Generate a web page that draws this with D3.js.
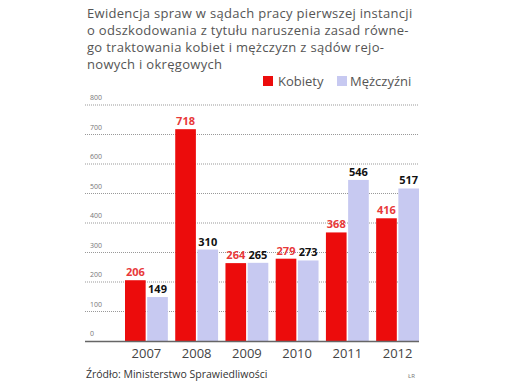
<!DOCTYPE html>
<html>
<head>
<meta charset="utf-8">
<script src="https://cdn.jsdelivr.net/npm/d3@7"></script>
<style>
  body { margin: 0; background: #fff; }
  text { font-family: "Open Sans", "DejaVu Sans", sans-serif; }
</style>
</head>
<body>
<div id="chart"></div>
<script>
// data
var years = ['2007', '2008', '2009', '2010', '2011', '2012'];
var kobiety = [206, 718, 264, 279, 368, 416];
var mezczyzni = [149, 310, 265, 273, 546, 517];
var yTicks = [0, 100, 200, 300, 400, 500, 600, 700, 800];
var seriesNames = ['Kobiety', 'Mężczyźni'];
var seriesColors = ['#ec0c0c', '#c7c9f1'];
var labelColors = ['#e8393a', '#111'];
var titleLines = [
  'Ewidencja spraw w sądach pracy pierwszej instancji',
  'o odszkodowania z tytułu naruszenia zasad równe-',
  'go traktowania kobiet i mężczyzn z sądów rejo-',
  'nowych i okręgowych'
];

var W = 509, H = 386;
var svg = d3.select('#chart').append('svg')
    .attr('width', W)
    .attr('height', H);

// title
svg.append('g').selectAll('text')
    .data(titleLines)
  .enter().append('text')
    .attr('x', 87)
    .attr('y', function(d, i) { return 18 + i * 17; })
    .attr('font-size', 13)
    .attr('letter-spacing', 0.3)
    .attr('font-family', '"Liberation Sans", Arial, sans-serif')
    .attr('fill', '#555')
    .text(String);

var gridLeft = 85, gridRight = 419;
var y = d3.scaleLinear().domain([0, 800]).range([341, 105]);
var x0 = d3.scaleBand().domain(years).range([125, 419]).paddingInner(0.147).paddingOuter(0);
var x1 = d3.scaleBand().domain(seriesNames).range([0, x0.bandwidth()]).paddingInner(0.07);

// gridlines + tick labels
var grid = svg.append('g');
grid.selectAll('line')
    .data(yTicks.slice(1))
  .enter().append('line')
    .attr('x1', gridLeft)
    .attr('x2', gridRight)
    .attr('y1', function(d) { return y(d); })
    .attr('y2', function(d) { return y(d); })
    .attr('stroke', '#999')
    .attr('stroke-width', 1)
    .attr('stroke-dasharray', '1,1');

grid.selectAll('text')
    .data(yTicks)
  .enter().append('text')
    .attr('x', 90)
    .attr('y', function(d) { return y(d) - 5; })
    .attr('font-size', 7)
    .attr('fill', '#777')
    .text(String);

// bars
var rows = years.map(function(yr, i) {
  return {year: yr, vals: [kobiety[i], mezczyzni[i]]};
});

var groups = svg.append('g').selectAll('g')
    .data(rows)
  .enter().append('g')
    .attr('transform', function(d) { return 'translate(' + x0(d.year) + ',0)'; });

groups.selectAll('rect')
    .data(function(d) { return d.vals.map(function(v, k) { return {name: seriesNames[k], k: k, v: v}; }); })
  .enter().append('rect')
    .attr('x', function(d) { return x1(d.name); })
    .attr('y', function(d) { return y(d.v); })
    .attr('width', x1.bandwidth())
    .attr('height', function(d) { return y(0) - y(d.v); })
    .attr('fill', function(d) { return seriesColors[d.k]; });

groups.selectAll('text.val')
    .data(function(d) { return d.vals.map(function(v, k) { return {name: seriesNames[k], k: k, v: v}; }); })
  .enter().append('text')
    .attr('class', 'val')
    .attr('x', function(d) { return x1(d.name) + x1.bandwidth() / 2; })
    .attr('y', function(d) { return y(d.v) - 4; })
    .attr('text-anchor', 'middle')
    .attr('font-size', 11)
    .attr('font-weight', 'bold')
    .attr('fill', function(d) { return labelColors[d.k]; })
    .text(function(d) { return d.v; });

// baseline
svg.append('line')
    .attr('x1', gridLeft)
    .attr('x2', gridRight)
    .attr('y1', y(0) + 0.5)
    .attr('y2', y(0) + 0.5)
    .attr('stroke', '#666')
    .attr('stroke-width', 1.5);

// year axis
var xAxis = svg.append('g')
    .attr('transform', 'translate(0,' + y(0) + ')')
    .call(d3.axisBottom(x0).tickSize(0).tickPadding(8));
xAxis.select('.domain').remove();
xAxis.selectAll('text')
    .attr('font-size', 13)
    .attr('fill', '#444')
    .attr('font-family', '"DejaVu Serif", serif');

// legend
var legend = svg.append('g');
var legendPos = [{sq: 263, tx: 278}, {sq: 337, tx: 350}];
seriesNames.forEach(function(name, k) {
  legend.append('rect')
      .attr('x', legendPos[k].sq)
      .attr('y', 76)
      .attr('width', 10)
      .attr('height', 10)
      .attr('fill', seriesColors[k]);
  legend.append('text')
      .attr('x', legendPos[k].tx)
      .attr('y', 86)
      .attr('font-size', 13)
      .attr('fill', '#555')
      .text(name);
});

// source
svg.append('text')
    .attr('x', 86)
    .attr('y', 378)
    .attr('font-size', 10.5)
    .attr('fill', '#333')
    .text('Źródło: Ministerstwo Sprawiedliwości');

svg.append('text')
    .attr('x', 408)
    .attr('y', 378)
    .attr('font-size', 6)
    .attr('fill', '#777')
    .text('ŁR');
</script>
</body>
</html>
